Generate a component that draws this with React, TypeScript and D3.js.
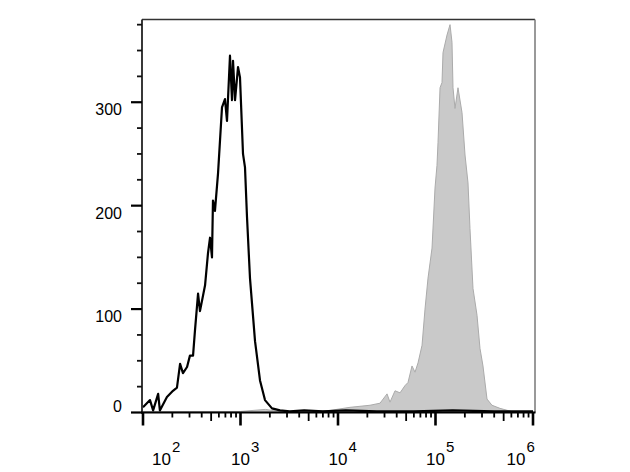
import * as d3 from "d3";

const WIDTH = 630;
const HEIGHT = 472;

// black (unfilled) histogram: intensity bins and counts
const blackX = [100, 118, 127, 143, 149, 176, 203, 223, 240, 257, 283, 303, 326, 341, 367, 384, 433, 464, 487, 510, 522, 547, 588, 646, 693, 727, 780, 818, 838, 879, 943, 988, 1061, 1112, 1166, 1251, 1409, 1585, 1783, 2104, 2541, 3200, 4500, 7000, 12000, 25000, 60000, 150000, 400000, 1000000];
const blackY = [5, 12, 2, 18, 2, 15, 21, 24, 47, 38, 44, 55, 55, 79, 115, 98, 123, 154, 169, 150, 205, 195, 231, 295, 303, 282, 345, 302, 340, 302, 334, 324, 250, 237, 189, 130, 69, 31, 12, 4, 2, 1, 2, 1, 2, 1, 1, 2, 1, 1];

// gray (filled) histogram
const grayX = [100, 300, 1000, 1800, 2500, 5000, 8279, 13270, 21280, 26970, 31840, 34140, 38440, 43260, 48660, 52220, 57410, 61660, 66210, 72780, 78060, 83810, 92110, 98860, 103600, 106100, 111300, 116600, 119400, 131300, 140900, 147600, 151200, 158500, 170100, 187000, 200800, 215500, 225700, 242400, 266600, 286000, 306900, 337500, 379600, 458800, 600000, 1000000];
const grayY = [1, 1, 1, 3, 1, 1, 2, 5, 7, 9, 18, 10, 21, 19, 26, 29, 45, 39, 48, 65, 100, 130, 159, 217, 239, 261, 314, 319, 348, 365, 375, 358, 314, 294, 314, 290, 249, 222, 178, 120, 94, 62, 45, 13, 7, 4, 1, 1];

const xDecades = [2, 3, 4, 5, 6];
const yMajor = [0, 100, 200, 300];
const yMinor = [25, 50, 75, 125, 150, 175, 225, 250, 275, 325, 350, 375];

const FONT = "'Liberation Sans', Arial, sans-serif";

export default function App() {
  const left = 142;
  const top = 19.5;
  const bottom = 412.5;
  const right = 535;

  const x = d3.scaleLog().domain([1e2, 1e6]).range([143, 533]);
  const y = d3.scaleLinear().domain([0, 380]).range([bottom, top]);

  const black = blackX.map((v, i) => [v, blackY[i]] as [number, number]);
  const gray = grayX.map((v, i) => [v, grayY[i]] as [number, number]);

  const line = d3
    .line<[number, number]>()
    .x((d) => x(d[0]))
    .y((d) => y(d[1]));
  const area = d3
    .area<[number, number]>()
    .x((d) => x(d[0]))
    .y0(y(0))
    .y1((d) => y(d[1]));

  const minorX: { v: number; k: number }[] = [];
  xDecades.slice(0, -1).forEach((e) => {
    for (let k = 2; k <= 9; k++) minorX.push({ v: k * Math.pow(10, e), k });
  });

  return (
    <svg
      width={WIDTH}
      height={HEIGHT}
      style={{ position: "absolute", left: 0, top: 0, background: "#fff" }}
    >
      {/* histograms */}
      <path d={area(gray) || ""} fill="#c9c9c9" stroke="#ababab" strokeWidth={1} />
      <path d={line(black) || ""} fill="none" stroke="#000" strokeWidth={2.2} strokeLinejoin="round" />

      {/* frame */}
      <line x1={left} x2={right} y1={top} y2={top} stroke="#333" strokeWidth={1.5} />
      <line x1={right} x2={right} y1={top} y2={bottom} stroke="#777" strokeWidth={1.5} />
      <line x1={left} x2={left} y1={top} y2={bottom + 1} stroke="#222" strokeWidth={1.8} />
      <line x1={left - 1} x2={right + 0.5} y1={bottom} y2={bottom} stroke="#000" strokeWidth={2} />

      {/* y ticks */}
      {yMajor.map((v) => (
        <line key={"ym" + v} x1={left - 11} x2={left} y1={y(v)} y2={y(v)} stroke="#000" strokeWidth={2.2} />
      ))}
      {yMinor.map((v) => (
        <line key={"yn" + v} x1={left - 5} x2={left} y1={y(v)} y2={y(v)} stroke="#111" strokeWidth={1.8} />
      ))}
      {yMajor.map((v) => (
        <text
          key={"yl" + v}
          x={122}
          y={v === 0 ? y(v) - 0.5 : y(v) + 13}
          textAnchor="end"
          fontFamily={FONT}
          fontSize={16}
          fill="#000"
        >
          {v}
        </text>
      ))}

      {/* x ticks */}
      {xDecades.map((e) => (
        <line
          key={"xm" + e}
          x1={x(Math.pow(10, e))}
          x2={x(Math.pow(10, e))}
          y1={bottom}
          y2={bottom + 13}
          stroke="#000"
          strokeWidth={2.6}
        />
      ))}
      {minorX.map((t) => (
        <line
          key={"xn" + t.v}
          x1={x(t.v)}
          x2={x(t.v)}
          y1={bottom}
          y2={bottom + (t.k === 5 ? 8.5 : 5)}
          stroke="#000"
          strokeWidth={1.8}
        />
      ))}
      {xDecades.map((e) => {
        const tx = x(Math.pow(10, e));
        const start = Math.max(152, Math.min(tx - 9.5, 535 - 28.5));
        return (
          <text key={"xl" + e} x={start} y={465} fontFamily={FONT} fontSize={17} fill="#000">
            10
            <tspan dx={1} dy={-13} fontSize={15}>
              {e}
            </tspan>
          </text>
        );
      })}
    </svg>
  );
}
